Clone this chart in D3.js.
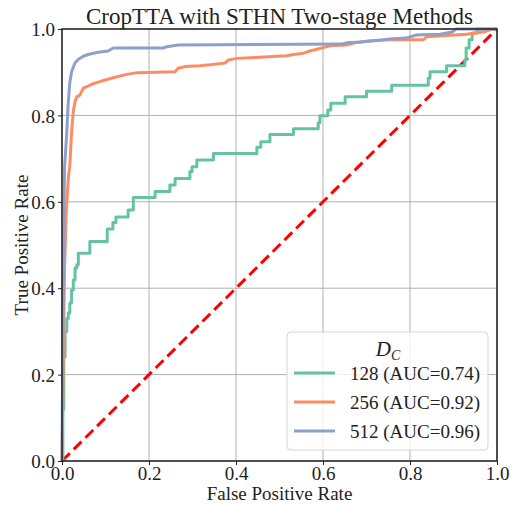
<!DOCTYPE html>
<html>
<head>
<meta charset="utf-8">
<script src="https://cdn.jsdelivr.net/npm/d3@7"></script>
<style>
  body { margin: 0; background: #fff; }
  text { font-family: "Liberation Serif", "DejaVu Serif", serif; fill: #222; }
</style>
</head>
<body>
<div id="chart"></div>
<script>
// ROC points: [fpr, tpr]
var fpr128 = [0, 0.002, 0.004, 0.007, 0.011, 0.0145, 0.018, 0.022, 0.026, 0.030, 0.034, 0.0375, 0.064, 0.104, 0.117, 0.124, 0.152, 0.164, 0.214, 0.248, 0.260, 0.294, 0.299, 0.310, 0.348, 0.448, 0.457, 0.478, 0.532, 0.589, 0.593, 0.611, 0.618, 0.651, 0.700, 0.758, 0.842, 0.846, 0.884, 0.926, 0.929, 0.936, 0.943, 0.954, 1.0]
var tpr128 = [0, 0.12, 0.24, 0.30, 0.33, 0.343, 0.366, 0.396, 0.419, 0.447, 0.454, 0.481, 0.508, 0.537, 0.552, 0.565, 0.581, 0.610, 0.624, 0.639, 0.654, 0.670, 0.681, 0.697, 0.712, 0.726, 0.739, 0.756, 0.769, 0.783, 0.799, 0.8125, 0.828, 0.843, 0.856, 0.870, 0.886, 0.901, 0.915, 0.928, 0.956, 0.975, 0.991, 1.0, 1.0]

var fpr256 = [0, 0.003, 0.006, 0.010, 0.015, 0.018, 0.022, 0.026, 0.030, 0.034, 0.041, 0.049, 0.060, 0.068, 0.083, 0.099, 0.118, 0.137, 0.149, 0.172, 0.260, 0.267, 0.283, 0.317, 0.340, 0.375, 0.382, 0.402, 0.444, 0.517, 0.532, 0.555, 0.570, 0.593, 0.616, 0.654, 0.677, 0.708, 0.754, 0.831, 0.838, 0.930, 0.969, 0.984, 1.0]
var tpr256 = [0, 0.25, 0.45, 0.58, 0.66, 0.685, 0.762, 0.809, 0.832, 0.843, 0.847, 0.863, 0.868, 0.872, 0.877, 0.882, 0.887, 0.892, 0.895, 0.899, 0.901, 0.909, 0.913, 0.915, 0.917, 0.921, 0.928, 0.932, 0.934, 0.938, 0.941, 0.944, 0.949, 0.955, 0.961, 0.963, 0.969, 0.972, 0.975, 0.975, 0.982, 0.988, 0.993, 0.998, 1.0]

var fpr512 = [0, 0.001, 0.003, 0.004, 0.006, 0.011, 0.014, 0.018, 0.022, 0.030, 0.038, 0.049, 0.060, 0.083, 0.106, 0.118, 0.233, 0.241, 0.267, 0.643, 0.654, 0.685, 0.708, 0.746, 0.790, 0.815, 0.869, 0.897, 0.906, 1.0]
var tpr512 = [0, 0.15, 0.40, 0.55, 0.68, 0.76, 0.824, 0.877, 0.901, 0.922, 0.930, 0.937, 0.941, 0.946, 0.949, 0.956, 0.956, 0.959, 0.963, 0.965, 0.968, 0.970, 0.972, 0.976, 0.979, 0.986, 0.988, 0.993, 1.0, 1.0]

var labels = ["128 (AUC=0.74)", "256 (AUC=0.92)", "512 (AUC=0.96)"]
var colors = ["#66c2a5", "#fc8d62", "#8da0cb"]
var ticks = [0, 0.2, 0.4, 0.6, 0.8, 1.0]

var margin = {top: 29, right: 26, bottom: 45, left: 62},
  width = 523 - margin.left - margin.right,
  height = 506 - margin.top - margin.bottom;

var svg = d3.select("#chart")
.append("svg")
  .attr("width", 523)
  .attr("height", 506)
.append("g")
  .attr("transform", "translate(" + margin.left + "," + margin.top + ")");

var x = d3.scaleLinear().domain([0, 1]).range([0, width])
var y = d3.scaleLinear().domain([0, 1]).range([height, 0])

// grid
svg.append("g").selectAll("line.gx")
  .data(ticks).enter().append("line")
    .attr("x1", d => x(d)).attr("x2", d => x(d))
    .attr("y1", 0).attr("y2", height)
    .attr("stroke", "#b0b0b0").attr("stroke-width", 1)
svg.append("g").selectAll("line.gy")
  .data(ticks).enter().append("line")
    .attr("y1", d => y(d)).attr("y2", d => y(d))
    .attr("x1", 0).attr("x2", width)
    .attr("stroke", "#b0b0b0").attr("stroke-width", 1)

// chance line
svg.append("line")
  .attr("x1", x(0)).attr("y1", y(0))
  .attr("x2", x(1)).attr("y2", y(1))
  .attr("stroke", "#ff0000").attr("stroke-width", 3)
  .attr("stroke-dasharray", "11,5.5")

var series = [
  {fpr: fpr128, tpr: tpr128, curve: d3.curveStepAfter},
  {fpr: fpr256, tpr: tpr256, curve: d3.curveLinear},
  {fpr: fpr512, tpr: tpr512, curve: d3.curveLinear}
]

series.forEach(function(s, i) {
  var pts = s.fpr.map((f, j) => [f, s.tpr[j]])
  var line = d3.line().x(d => x(d[0])).y(d => y(d[1])).curve(s.curve)
  svg.append("path")
    .datum(pts)
    .attr("d", line)
    .attr("fill", "none")
    .attr("stroke", colors[i])
    .attr("stroke-width", 3)
    .attr("stroke-linejoin", "round")
})

// axes
var xAxis = svg.append("g")
  .attr("transform", "translate(0," + height + ")")
  .call(d3.axisBottom(x).tickValues(ticks).tickFormat(d3.format(".1f")).tickSize(4).tickPadding(2))
var yAxis = svg.append("g")
  .call(d3.axisLeft(y).tickValues(ticks).tickFormat(d3.format(".1f")).tickSize(4).tickPadding(3))
xAxis.select(".domain").remove()
yAxis.select(".domain").remove()
xAxis.selectAll("text").attr("font-size", "19px").attr("fill", "#222")
  .attr("font-family", "Liberation Serif")
yAxis.selectAll("text").attr("font-size", "19px").attr("fill", "#222")
  .attr("font-family", "Liberation Serif").attr("dy", "0.35em")
svg.selectAll(".tick line").attr("stroke", "#222").attr("stroke-width", 1)

// frame
svg.append("rect")
  .attr("width", width).attr("height", height)
  .attr("fill", "none").attr("stroke", "#222").attr("stroke-width", 1.5)

// title and labels
svg.append("text")
  .attr("x", width / 2).attr("y", -5)
  .attr("text-anchor", "middle").attr("font-size", "23px")
  .text("CropTTA with STHN Two-stage Methods")
svg.append("text")
  .attr("x", width / 2).attr("y", height + 39)
  .attr("text-anchor", "middle").attr("font-size", "19px")
  .text("False Positive Rate")
svg.append("text")
  .attr("transform", "translate(-34," + (height / 2) + ") rotate(-90)")
  .attr("text-anchor", "middle").attr("font-size", "19px")
  .text("True Positive Rate")

// legend
var lg = svg.append("g").attr("transform", "translate(" + (width - 210) + "," + (height - 129) + ")")
lg.append("rect")
  .attr("width", 201).attr("height", 118).attr("rx", 4)
  .attr("fill", "#fff").attr("fill-opacity", 0.8)
  .attr("stroke", "#d5d5d5").attr("stroke-width", 1)
var lt = lg.append("text").attr("x", 101).attr("y", 24).attr("text-anchor", "middle").attr("font-size", "21px")
lt.append("tspan").attr("font-style", "italic").text("D")
lt.append("tspan").attr("font-style", "italic").attr("font-size", "14px").attr("dy", "4").text("C")

labels.forEach(function(l, i) {
  var yy = 41 + i * 29
  lg.append("line")
    .attr("x1", 7).attr("x2", 48).attr("y1", yy).attr("y2", yy)
    .attr("stroke", colors[i]).attr("stroke-width", 3)
  lg.append("text")
    .attr("x", 63).attr("y", yy).attr("dy", "0.35em")
    .attr("font-size", "19px")
    .text(l)
})
</script>
</body>
</html>
